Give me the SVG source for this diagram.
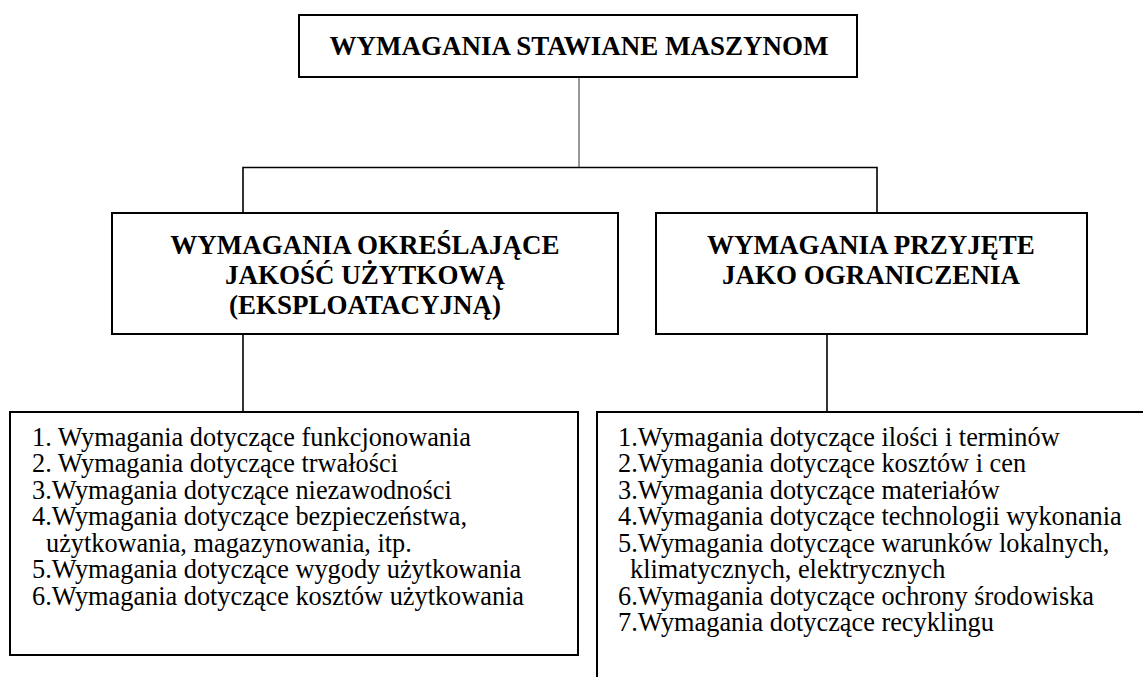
<svg xmlns="http://www.w3.org/2000/svg" width="1143" height="677" viewBox="0 0 1143 677">
  <style>
    .box { fill: #ffffff; stroke: #000000; stroke-width: 2; }
    .wire { fill: none; stroke: #000000; stroke-width: 1.6; }
    .thin { fill: none; stroke: #555555; stroke-width: 1.2; }
    .head { font-weight: bold; font-size: 27px; fill: #000000; text-anchor: middle; }
    .item { font-size: 26.3px; fill: #000000; }
  </style>
  <rect width="1143" height="677" fill="#ffffff"/>

  <!-- connectors -->
  <g id="connectors">
    <line class="thin" x1="579" y1="77" x2="579" y2="167"/>
    <polyline class="wire" points="243,213 243,167.5 877,167.5 877,213"/>
    <line class="wire" x1="243" y1="334" x2="243" y2="412"/>
    <line class="wire" x1="827" y1="334" x2="827" y2="412"/>
  </g>

  <g font-family="'Liberation Serif', 'DejaVu Serif', serif">
    <!-- root -->
    <g id="root">
      <rect class="box" x="299" y="15" width="558" height="62"/>
      <text class="head" x="579" y="55">WYMAGANIA STAWIANE MASZYNOM</text>
    </g>

    <!-- usage quality branch -->
    <g id="quality">
      <rect class="box" x="112" y="213" width="506" height="121"/>
      <text class="head" x="365" y="254">WYMAGANIA OKREŚLAJĄCE</text>
      <text class="head" x="365" y="284">JAKOŚĆ UŻYTKOWĄ</text>
      <text class="head" x="365" y="314">(EKSPLOATACYJNĄ)</text>
    </g>

    <!-- constraints branch -->
    <g id="constraints">
      <rect class="box" x="656" y="213" width="431" height="121"/>
      <text class="head" x="871" y="254">WYMAGANIA PRZYJĘTE</text>
      <text class="head" x="871" y="284">JAKO OGRANICZENIA</text>
    </g>

    <!-- list of usage quality requirements -->
    <g id="quality-list">
      <rect class="box" x="10" y="412" width="568" height="243"/>
      <text class="item" x="32" y="446">1. Wymagania dotyczące funkcjonowania</text>
      <text class="item" x="32" y="472">2. Wymagania dotyczące trwałości</text>
      <text class="item" x="32" y="499">3.Wymagania dotyczące niezawodności</text>
      <text class="item" x="32" y="525">4.Wymagania dotyczące bezpieczeństwa,</text>
      <text class="item" x="46" y="552">użytkowania, magazynowania, itp.</text>
      <text class="item" x="32" y="578">5.Wymagania dotyczące wygody użytkowania</text>
      <text class="item" x="32" y="605">6.Wymagania dotyczące kosztów użytkowania</text>
    </g>

    <!-- list of constraint requirements -->
    <g id="constraints-list">
      <polyline class="box" fill="none" points="597,680 597,412 1145,412"/>
      <text class="item" x="618" y="446">1.Wymagania dotyczące ilości i terminów</text>
      <text class="item" x="618" y="472">2.Wymagania dotyczące kosztów i cen</text>
      <text class="item" x="618" y="499">3.Wymagania dotyczące materiałów</text>
      <text class="item" x="618" y="525">4.Wymagania dotyczące technologii wykonania</text>
      <text class="item" x="618" y="552">5.Wymagania dotyczące warunków lokalnych,</text>
      <text class="item" x="630" y="578">klimatycznych, elektrycznych</text>
      <text class="item" x="618" y="605">6.Wymagania dotyczące ochrony środowiska</text>
      <text class="item" x="618" y="631">7.Wymagania dotyczące recyklingu</text>
    </g>
  </g>
</svg>
